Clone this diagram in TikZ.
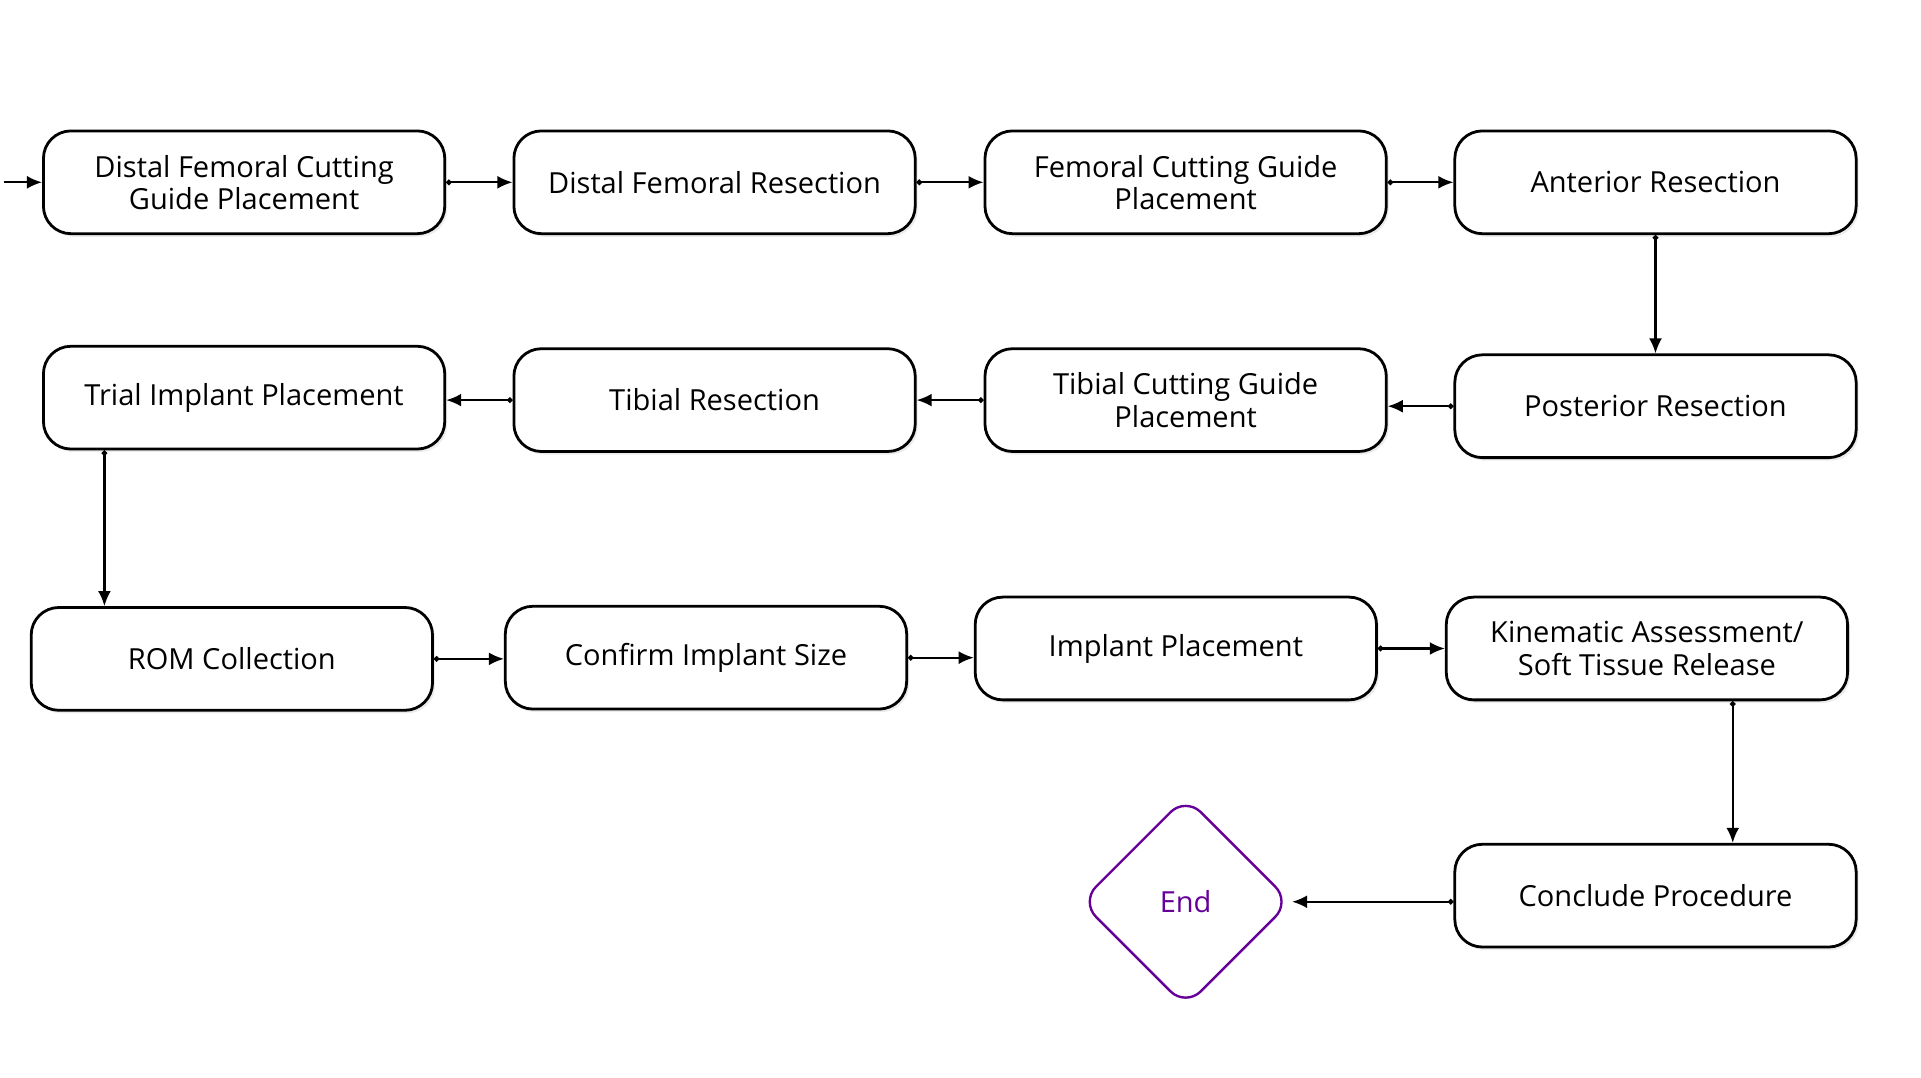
\documentclass[tikz,border=0pt]{standalone}
\usepackage{fontspec}
\setmainfont{Open Sans}
\usetikzlibrary{shapes.geometric,arrows.meta,shadows,positioning}
\tikzset{
  stepbox/.style={draw, line width=1.3pt, rectangle, rounded corners=0.45cm, fill=white,
    minimum width=6.56cm, minimum height=1.68cm, align=center,
    font=\fontsize{13.5}{15}\selectfont, drop shadow={opacity=0.15, shadow xshift=0.04cm, shadow yshift=-0.05cm}},
  endbox/.style={draw=violet!80!blue, line width=1.1pt, diamond, rounded corners=0.35cm, fill=white,
    minimum width=3.44cm, minimum height=3.44cm, text=violet!80!blue,
    font=\fontsize{13.5}{15}\selectfont},
  flow/.style={{Circle[length=2.5pt]}-{Latex[length=7pt,width=6pt]}, line width=1pt}
}
\begin{document}
\begin{tikzpicture}
        \useasboundingbox (0,0) rectangle (31.4,-17.62);
        % first row
        \node[stepbox] (distalguide) at (3.99,-2.98) {Distal Femoral Cutting\\Guide Placement};
        \node[stepbox] (distalres) at (11.68,-2.98) {Distal Femoral Resection};
        \node[stepbox] (femguide) at (19.38,-2.98) {Femoral Cutting Guide\\Placement};
        \node[stepbox] (anterior) at (27.06,-2.98) {Anterior Resection};
        
        % second row
        \node[stepbox] (trial) at (3.99,-6.5) {Trial Implant Placement};
        \node[stepbox] (tibialres) at (11.68,-6.54) {Tibial Resection};
        \node[stepbox] (tibguide) at (19.38,-6.54) {Tibial Cutting Guide\\Placement};
        \node[stepbox] (posterior) at (27.06,-6.64) {Posterior Resection};
        
        % third row
        \node[stepbox] (rom) at (3.79,-10.77) {ROM Collection};
        \node[stepbox] (confirm) at (11.54,-10.75) {Confirm Implant Size};
        \node[stepbox] (implant) at (19.22,-10.6) {Implant Placement};
        \node[stepbox] (kinematic) at (26.92,-10.6) {Kinematic Assessment/\\Soft Tissue Release};
        
        % last row
        \node[stepbox] (conclude) at (27.06,-14.64) {Conclude Procedure};
        \node[endbox] (end) at (19.38,-14.74) {End};
        
        \coordinate (start) at (0.06,-2.98);
        
        % connectors
        \draw[-{Latex[length=7pt,width=6pt]}, line width=1pt] (start) -- (distalguide.west);
        \draw[flow] (distalguide.east) -- (distalguide.east -| distalres.west);
        \draw[flow] (distalres.east) -- (distalres.east -| femguide.west);
        \draw[flow] (femguide.east) -- (femguide.east -| anterior.west);
        \draw[flow] (anterior.south) -- (posterior.north);
        \draw[flow] (posterior.west) -- (posterior.west -| tibguide.east);
        \draw[flow] (tibguide.west) -- (tibguide.west -| tibialres.east);
        \draw[flow] (tibialres.west) -- (tibialres.west -| trial.east);
        \draw[flow] ([xshift=1.02cm]trial.south west) -- ([xshift=1.02cm]trial.south west |- rom.north);
        \draw[flow] (rom.east) -- (rom.east -| confirm.west);
        \draw[flow] (confirm.east) -- (confirm.east -| implant.west);
        \draw[flow] (implant.east) -- (implant.east -| kinematic.west);
        \draw[flow] ([xshift=-1.9cm]kinematic.south east) -- ([xshift=-1.9cm]kinematic.south east |- conclude.north);
        \draw[flow] (conclude.west |- end.east) -- (end.east);
    \end{tikzpicture}
\end{document}
